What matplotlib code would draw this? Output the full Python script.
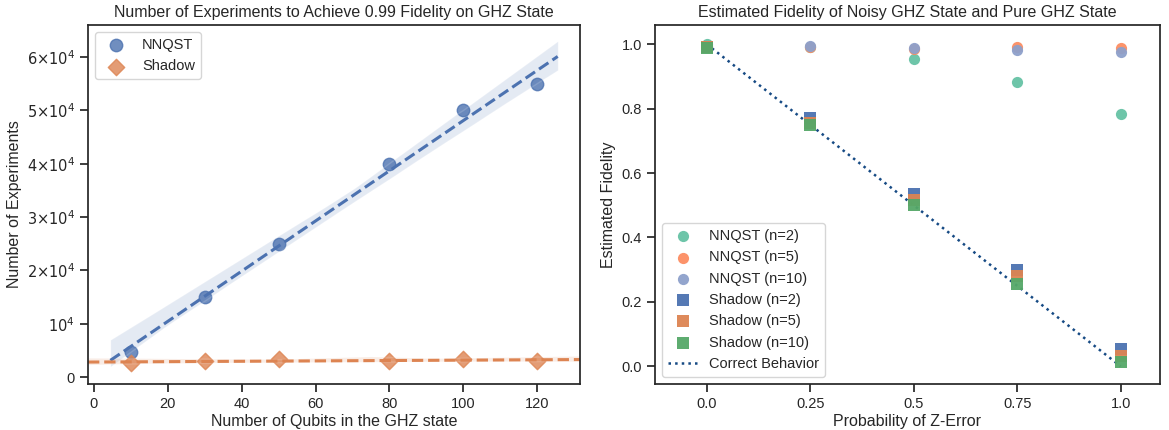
import numpy as np
import matplotlib
matplotlib.use("Agg")
import matplotlib.pyplot as plt
import matplotlib.ticker as mticker
import seaborn as sns

# Left panel data
qubits = [10, 30, 50, 80, 100, 120]
nnqst_experiments = [4800, 15000, 25000, 40000, 50000, 55000]
shadow_experiments = [2600, 3000, 3400, 3100, 3400, 3000]

# Right panel data
p_z_error = [0.0, 0.25, 0.5, 0.75, 1.0]
p_labels = ["0.0", "0.25", "0.5", "0.75", "1.0"]
nnqst_fid = {
    "n=2": [1.0, 0.99, 0.955, 0.883, 0.782],
    "n=5": [0.99, 0.99, 0.984, 0.99, 0.988],
    "n=10": [0.995, 0.995, 0.988, 0.983, 0.975],
}
shadow_fid = {
    "n=2": [0.99, 0.77, 0.535, 0.30, 0.055],
    "n=5": [0.99, 0.757, 0.515, 0.28, 0.032],
    "n=10": [0.988, 0.748, 0.50, 0.255, 0.012],
}
correct = [1.0, 0.75, 0.5, 0.25, 0.0]

sns.set_theme(style="ticks")
plt.rcParams["font.family"] = ["Liberation Sans", "DejaVu Sans"]

deep = sns.color_palette("deep")
set2 = sns.color_palette("Set2")

fig = plt.figure(figsize=(11.69, 4.30), dpi=100)
ax1 = fig.add_axes([0.0753, 0.107, 0.4209, 0.835])
ax2 = fig.add_axes([0.5603, 0.107, 0.4320, 0.835])

# ---- left: experiments vs qubits ----
sns.regplot(x=qubits, y=nnqst_experiments, ax=ax1, marker="o", color=deep[0],
            truncate=False, seed=1, label="NNQST",
            scatter_kws={"s": 80}, line_kws={"linestyle": "--", "lw": 2.2})
# second fit spans the widened axis range
ax1.set_xlim(-1.55, 131.55)
sns.regplot(x=qubits, y=shadow_experiments, ax=ax1, marker="D", color=deep[1],
            truncate=False, seed=1, label="Shadow",
            scatter_kws={"s": 70}, line_kws={"linestyle": "--", "lw": 2.2})
ax1.set_xlim(-1.55, 131.55)


def sci_fmt(v, pos):
    k = int(round(v / 1e4))
    if k == 0:
        return "0"
    if k == 1:
        return r"$10^{4}$"
    return r"$%d{\times}10^{4}$" % k


ax1.yaxis.set_major_locator(mticker.MultipleLocator(1e4))
ax1.yaxis.set_major_formatter(mticker.FuncFormatter(sci_fmt))
ax1.set_ylim(-1260, 66000)
ax1.set_title("Number of Experiments to Achieve 0.99 Fidelity on GHZ State", fontsize=11.5)
ax1.set_xlabel("Number of Qubits in the GHZ state", fontsize=11.5, labelpad=2)
ax1.set_ylabel("Number of Experiments", fontsize=11.5, labelpad=3)
ax1.tick_params(labelsize=10.5)
ax1.legend(loc="upper left", fontsize=10.5)

# ---- right: fidelity vs z-error ----
for (name, vals), c in zip(nnqst_fid.items(), set2[:3]):
    ax2.scatter(p_z_error, vals, marker="o", s=65, color=c, alpha=0.95,
                linewidths=0, label=f"NNQST ({name})", zorder=3)
for (name, vals), c in zip(shadow_fid.items(), [deep[0], deep[1], deep[2]]):
    ax2.scatter(p_z_error, vals, marker="s", s=65, color=c, alpha=0.95,
                linewidths=0, label=f"Shadow ({name})", zorder=3)
ax2.plot(p_z_error, correct, linestyle=":", color="#164a84", lw=1.8,
         label="Correct Behavior", zorder=2)

ax2.set_xticks(p_z_error)
ax2.set_xticklabels(p_labels)
ax2.set_xlim(-0.125, 1.095)
ax2.set_ylim(-0.055, 1.06)
ax2.set_title("Estimated Fidelity of Noisy GHZ State and Pure GHZ State", fontsize=11.5)
ax2.set_xlabel("Probability of Z-Error", fontsize=11.5, labelpad=2)
ax2.set_ylabel("Estimated Fidelity", fontsize=11.5)
ax2.tick_params(labelsize=10.5)
ax2.legend(loc="lower left", fontsize=10.5)

fig.savefig("out.png", dpi=100)
